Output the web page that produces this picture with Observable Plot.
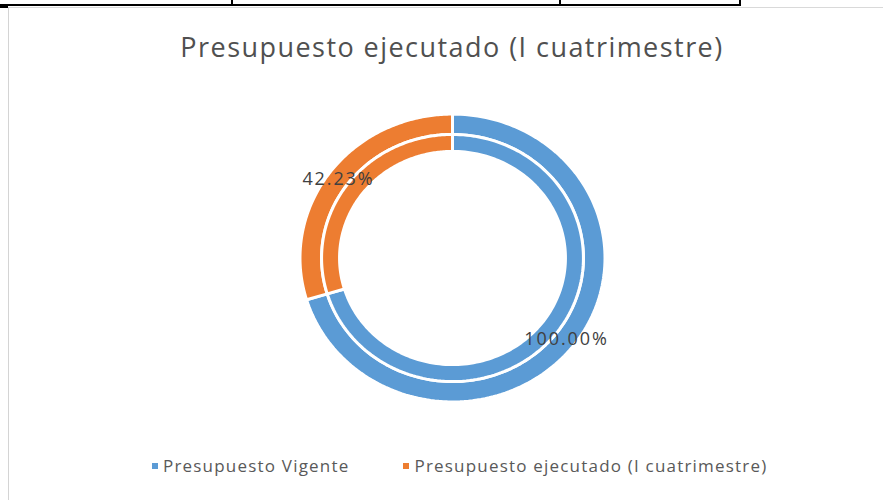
<!DOCTYPE html>
<html>
<head>
<meta charset="utf-8">
<script src="https://cdn.jsdelivr.net/npm/d3@7"></script>
<script src="https://cdn.jsdelivr.net/npm/@observablehq/plot@0.6"></script>
<style>
  html, body { margin: 0; padding: 0; background: #fff; }
  #wrap { position: relative; width: 883px; height: 500px; overflow: hidden; background: #fff; font-family: "Open Sans", sans-serif; }
  #chart { position: absolute; left: 0; top: 0; }
  .tline { position: absolute; background: #000; }
  #box { position: absolute; left: 8px; top: 7px; width: 900px; height: 520px; border-left: 1px solid #d4d4d4; border-top: 1px solid #d9d9d9; }
  #title { position: absolute; left: 0; width: 904px; top: 28px; text-align: center; font-size: 27px; color: #505050; letter-spacing: 1.45px; white-space: nowrap; }
  #legend { position: absolute; top: 454px; left: 152px; font-size: 17px; color: #595959; letter-spacing: 1.2px; white-space: nowrap; display: flex; align-items: center; }
  .item { display: flex; align-items: center; }
  .sw { width: 6px; height: 6px; margin-right: 5px; }
</style>
</head>
<body>
<div id="wrap">
  <div id="box"></div>
  <div class="tline" style="left:0;top:4px;width:741px;height:2px;"></div>
  <div class="tline" style="left:231px;top:0;width:2px;height:5px;"></div>
  <div class="tline" style="left:559px;top:0;width:2px;height:5px;"></div>
  <div class="tline" style="left:739px;top:0;width:2px;height:5px;"></div>
  <div class="tline" style="left:0;top:5px;width:8px;height:3px;"></div>
  <div id="chart"></div>
  <div id="title"></div>
  <div id="legend"></div>
</div>
<script>
// ---- data ----
const chartTitle = "Presupuesto ejecutado (I cuatrimestre)";
const categories = ["Presupuesto Vigente", "Presupuesto ejecutado (I cuatrimestre)"];
const outerValues = [100, 42.23];
const innerValues = [100, 42.23];
const valueLabels = ["100.00%", "42.23%"];
const colors = ["#5B9BD5", "#ED7D31"];

// ---- build ring polygons from the values ----
const rings = [
  {name: "outer", values: outerValues, r0: 0.867, r1: 1.01},
  {name: "inner", values: innerValues, r0: 0.748, r1: 0.867}
];
const pie = d3.pie().sort(null).value(d => d.value);
const pts = [];
const labelData = [];
rings.forEach(ring => {
  const arcs = pie(categories.map((c, i) => ({category: c, value: ring.values[i], label: valueLabels[i]})));
  arcs.forEach((a, i) => {
    const key = ring.name + "-" + i;
    const n = 160;
    for (let k = 0; k <= n; k++) {
      const t = a.startAngle + (a.endAngle - a.startAngle) * k / n;
      pts.push({key, category: a.data.category, x: Math.sin(t) * ring.r1, y: Math.cos(t) * ring.r1});
    }
    for (let k = n; k >= 0; k--) {
      const t = a.startAngle + (a.endAngle - a.startAngle) * k / n;
      pts.push({key, category: a.data.category, x: Math.sin(t) * ring.r0, y: Math.cos(t) * ring.r0});
    }
    if (ring.name === "outer") {
      const mid = (a.startAngle + a.endAngle) / 2;
      const rm = 0.94;
      labelData.push({x: Math.sin(mid) * rm, y: Math.cos(mid) * rm, text: a.data.label});
    }
  });
});

const plot = Plot.plot({
  width: 883,
  height: 500,
  marginLeft: 301,
  marginRight: 280,
  marginTop: 115,
  marginBottom: 100,
  x: {domain: [-1, 1], axis: null},
  y: {domain: [-1, 1], axis: null},
  color: {domain: categories, range: colors},
  style: {background: "transparent", fontFamily: "'Open Sans', sans-serif"},
  marks: [
    Plot.line(pts, {x: "x", y: "y", z: "key", fill: "category", stroke: "white", strokeWidth: 3, curve: "linear-closed"}),
    Plot.text(labelData, {x: "x", y: "y", text: "text", fontSize: 18, fill: "#404040", fontFamily: "'Open Sans', sans-serif", dy: 1})
  ]
});
plot.querySelectorAll("text").forEach(t => t.setAttribute("letter-spacing", "1.9"));
document.getElementById("chart").appendChild(plot);

document.getElementById("title").textContent = chartTitle;
const legend = document.getElementById("legend");
categories.forEach((c, i) => {
  const it = document.createElement("div");
  it.className = "item";
  it.style.marginRight = i === 0 ? "54px" : "0";
  const sw = document.createElement("div");
  sw.className = "sw";
  sw.style.background = colors[i];
  const tx = document.createElement("span");
  tx.textContent = c;
  it.appendChild(sw);
  it.appendChild(tx);
  legend.appendChild(it);
});
</script>
</body>
</html>
